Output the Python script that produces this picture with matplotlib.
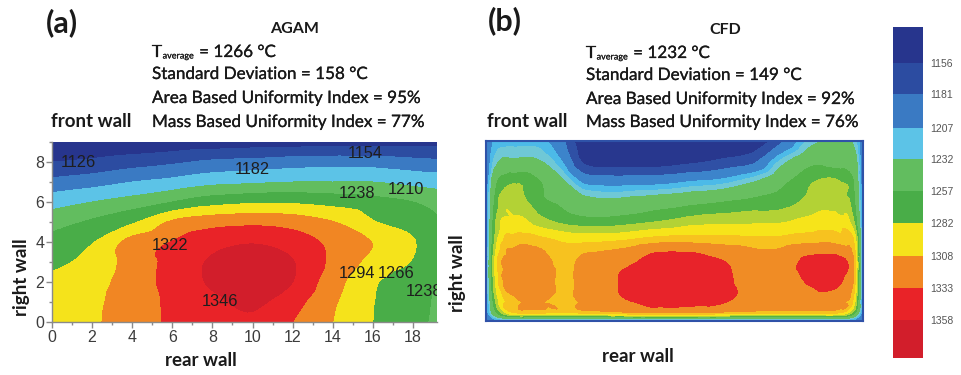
import matplotlib
matplotlib.use("Agg")
import matplotlib.pyplot as plt
import matplotlib.tri as mtri
import matplotlib.patheffects as pe
import numpy as np
from matplotlib.colors import ListedColormap, BoundaryNorm
import matplotlib.colorbar as mcolorbar

# ---------------- data ----------------
# (a) AGAM temperature field (deg C), rows from y=0 (rear wall) to y=9 (front wall)
agam_x = [0, 2, 4, 6, 8, 10, 12, 14, 16, 18, 19.2]
agam_y = [0, 1, 2, 3, 4, 5, 6, 7, 8, 9]
agam_y0 = [1282, 1290, 1309, 1326, 1336, 1342, 1322, 1294, 1266, 1246, 1233]
agam_y1 = [1278, 1288, 1309, 1327, 1341, 1350, 1332, 1298, 1267, 1246, 1235]
agam_y2 = [1272, 1284, 1307, 1331, 1349, 1358, 1346, 1306, 1270, 1249, 1238]
agam_y3 = [1259, 1275, 1305, 1330, 1349, 1358, 1347, 1316, 1285, 1264, 1243]
agam_y4 = [1246, 1264, 1304, 1323, 1337, 1344, 1335, 1315, 1293, 1268, 1246]
agam_y5 = [1227, 1242, 1262, 1298, 1311, 1315, 1310, 1295, 1268, 1255, 1242]
agam_y6 = [1198, 1210, 1222, 1238, 1255, 1262, 1262, 1256, 1248, 1238, 1228]
agam_y7 = [1162, 1170, 1182, 1191, 1202, 1206, 1210, 1210, 1210, 1202, 1198]
agam_y8 = [1126, 1132, 1141, 1149, 1159, 1163, 1168, 1170, 1169, 1163, 1160]
agam_y9 = [1095, 1098, 1100, 1104, 1106, 1110, 1111, 1112, 1112, 1114, 1115]
agam_levels = [1126, 1154, 1182, 1210, 1238, 1266, 1294, 1322, 1346]
agam_labels = ["1126", "1182", "1154", "1238", "1210", "1322", "1346", "1294", "1266", "1238"]

# (b) CFD temperature field (deg C)
cfd_x = [0, 0.4, 1.5, 2.8, 3.9, 5.0, 6.2, 7.5, 9, 10.5, 12, 13.5, 15, 16.5, 18, 18.8, 19.2]
cfd_y = [0, 0.35, 1, 2, 3, 4, 5, 6, 7, 8, 9]
cfd_y0 = [1180, 1190, 1192, 1192, 1192, 1192, 1192, 1192, 1192, 1192, 1192, 1192, 1192, 1192, 1192, 1190, 1180]
cfd_y035 = [1190, 1240, 1288, 1289, 1288, 1290, 1292, 1296, 1300, 1298, 1294, 1291, 1290, 1290, 1288, 1250, 1190]
cfd_y1 = [1195, 1262, 1304, 1309, 1300, 1312, 1320, 1334, 1340, 1340, 1337, 1318, 1316, 1318, 1312, 1282, 1195]
cfd_y2 = [1200, 1275, 1320, 1322, 1302, 1316, 1326, 1342, 1347, 1347, 1340, 1322, 1318, 1336, 1336, 1296, 1200]
cfd_y3 = [1200, 1278, 1320, 1318, 1300, 1314, 1320, 1330, 1350, 1350, 1334, 1320, 1318, 1340, 1340, 1300, 1200]
cfd_y4 = [1200, 1268, 1302, 1300, 1294, 1293, 1294, 1298, 1304, 1304, 1302, 1300, 1300, 1304, 1302, 1288, 1200]
cfd_y5 = [1195, 1262, 1285, 1274, 1266, 1262, 1262, 1265, 1270, 1276, 1278, 1279, 1280, 1286, 1286, 1265, 1195]
cfd_y6 = [1195, 1255, 1274, 1260, 1252, 1240, 1236, 1240, 1245, 1250, 1255, 1260, 1263, 1273, 1275, 1255, 1195]
cfd_y7 = [1190, 1245, 1268, 1256, 1235, 1200, 1195, 1196, 1198, 1206, 1212, 1228, 1250, 1268, 1270, 1250, 1190]
cfd_y8 = [1185, 1222, 1235, 1232, 1205, 1150, 1140, 1140, 1142, 1150, 1160, 1172, 1222, 1250, 1248, 1240, 1190]
cfd_y9 = [1180, 1208, 1214, 1212, 1185, 1135, 1128, 1126, 1126, 1128, 1130, 1130, 1175, 1225, 1232, 1225, 1185]
cfd_levels = [1000, 1156, 1181, 1207, 1220, 1232, 1257, 1270, 1282, 1295, 1308, 1333, 1500]
cfd_colors = ["#28378e", "#2f50a5", "#3c84cb", "#4cbae8", "#6fc8d6", "#68bf60",
              "#52b347", "#b3d235", "#f6e41a", "#f7c21f", "#f08c25", "#e8232a"]

# colour bar
cb_bounds = [1128, 1156, 1181, 1207, 1232, 1257, 1282, 1308, 1333, 1358, 1388]
cb_ticks = [1156, 1181, 1207, 1232, 1257, 1282, 1308, 1333, 1358]
band_colors = ["#27358d", "#2c4ca1", "#3a7ac3", "#5cc3e7", "#62bd5f",
               "#49ad48", "#f5e31b", "#f18623", "#e92328", "#d21e2b"]

# ---------------- figure ----------------
FONT = "Lato"
plt.rcParams["font.family"] = [FONT, "DejaVu Sans"]
W, H = 961, 375
fig = plt.figure(figsize=(W / 100, H / 100), dpi=100)
renderer = fig.canvas.get_renderer()


def rect(l, t, r, b):
    return [l / W, 1 - b / H, (r - l) / W, (b - t) / H]


def ftxt(px, py, s, **kw):
    return fig.text(px / W, 1 - py / H, s, **kw)


def smooth(xs, ys, rows):
    X, Y = np.meshgrid(np.array(xs, float), np.array(ys, float))
    Z = np.array(rows, float)
    tri = mtri.Triangulation(X.ravel(), Y.ravel())
    interp = mtri.CubicTriInterpolator(tri, Z.ravel(), kind="geom")
    ref = mtri.UniformTriRefiner(tri)
    return ref.refine_field(Z.ravel(), triinterpolator=interp, subdiv=3)


# ---- panel (a)
axa = fig.add_axes(rect(52, 142, 437, 322))
rows_a = [agam_y0, agam_y1, agam_y2, agam_y3, agam_y4, agam_y5, agam_y6, agam_y7, agam_y8, agam_y9]
tri_a, z_a = smooth(agam_x, agam_y, rows_a)
lev_a = [900] + agam_levels + [1500]
axa.tricontourf(tri_a, z_a, levels=lev_a, colors=band_colors)
axa.set_xlim(0, 19.2)
axa.set_ylim(0, 9)
axa.set_xticks(range(0, 19, 2))
axa.set_xticks(range(1, 19, 2), minor=True)
axa.set_yticks(range(0, 9, 2))
axa.set_yticks(range(1, 10, 2), minor=True)
for sp in ["top", "right"]:
    axa.spines[sp].set_visible(False)
for sp in ["left", "bottom"]:
    axa.spines[sp].set_color("#8a8a8a")
    axa.spines[sp].set_linewidth(1.0)
axa.tick_params(which="major", direction="out", length=4, width=1, color="#8a8a8a",
                labelsize=11.5, labelcolor="#3c3c3c", pad=1.5)
axa.tick_params(which="minor", direction="out", length=2.5, width=1, color="#8a8a8a")
for lab in axa.get_xticklabels() + axa.get_yticklabels():
    lab.set_family(["Liberation Sans", "DejaVu Sans"])

label_pos = [(1.3, 8.0, "center"), (10.0, 7.65, "center"), (15.6, 8.45, "center"),
             (15.2, 6.45, "center"), (17.65, 6.65, "center"), (5.9, 3.85, "center"),
             (8.4, 1.05, "center"), (15.2, 2.45, "center"), (17.15, 2.45, "center"),
             (17.65, 1.5, "left")]
for (x, y, ha), s in zip(label_pos, agam_labels):
    axa.text(x, y, s, ha=ha, va="center", fontsize=11.8, color="#1e1e1e",
             family=["Liberation Sans", "DejaVu Sans"], clip_on=True)

# ---- panel (b)
axb = fig.add_axes(rect(486, 141, 863, 321))
rows_b = [cfd_y0, cfd_y035, cfd_y1, cfd_y2, cfd_y3, cfd_y4, cfd_y5, cfd_y6, cfd_y7, cfd_y8, cfd_y9]
tri_b, z_b = smooth(cfd_x, cfd_y, rows_b)
axb.tricontourf(tri_b, z_b, levels=cfd_levels, colors=cfd_colors)
axb.set_xlim(0, 19.2)
axb.set_ylim(0, 9)
axb.set_xticks([])
axb.set_yticks([])
for sp in axb.spines.values():
    sp.set_color("#2f52a8")
    sp.set_linewidth(1.5)

# ---- colour bar
cax = fig.add_axes(rect(893, 27, 923, 358))
cb = mcolorbar.ColorbarBase(cax, cmap=ListedColormap(band_colors),
                            norm=BoundaryNorm(cb_bounds, len(band_colors)),
                            boundaries=cb_bounds, ticks=cb_ticks,
                            spacing="proportional", orientation="vertical")
cax.invert_yaxis()
cb.outline.set_visible(False)
cax.minorticks_off()
cax.tick_params(which="both", length=0, labelsize=7.5, labelcolor="#555555", pad=5)
cax.set_yticklabels([str(t) for t in cb_ticks], family=["Liberation Sans", "DejaVu Sans"])

# ---- texts
bold = dict(fontweight="bold", color="#1a1a1a")
STAT_FS = 12.3
STAT_C = "#181818"
stat = dict(fontsize=STAT_FS, color=STAT_C, ha="left", va="center",
            path_effects=[pe.withStroke(linewidth=0.18, foreground=STAT_C)])


def t_average(px, py, rest):
    t1 = ftxt(px, py, "T", **stat)
    bb = t1.get_window_extent(renderer)
    t2 = ftxt(bb.x1 + 0.5, py + 4, "average", fontsize=6.5, color=STAT_C, ha="left",
              va="center", path_effects=[pe.withStroke(linewidth=0.1, foreground=STAT_C)])
    bb2 = t2.get_window_extent(renderer)
    ftxt(bb2.x1 + 1, py, rest, **stat)


ftxt(62, 23, "(a)", fontsize=22, ha="center", va="center", **bold)
ftxt(295, 29, "AGAM", fontsize=11.5, ha="center", va="center", **bold)
t_average(152, 52, " = 1266 °C")
ftxt(152, 74, "Standard Deviation = 158 °C", **stat)
ftxt(152, 98, "Area Based Uniformity Index = 95%", **stat)
ftxt(152, 122, "Mass Based Uniformity Index = 77%", **stat)
ftxt(91, 122, "front wall", fontsize=13.5, ha="center", va="center", **bold)
ftxt(22, 277, "right wall", fontsize=13.5, ha="center", va="center", rotation=90, **bold)
ftxt(201, 360, "rear wall", fontsize=13.5, ha="center", va="center", **bold)

ftxt(505, 21, "(b)", fontsize=22, ha="center", va="center", **bold)
ftxt(725, 30, "CFD", fontsize=11.5, ha="center", va="center", **bold)
t_average(586, 53, " = 1232 °C")
ftxt(586, 75, "Standard Deviation = 149 °C", **stat)
ftxt(586, 99, "Area Based Uniformity Index = 92%", **stat)
ftxt(586, 122, "Mass Based Uniformity Index = 76%", **stat)
ftxt(527, 122, "front wall", fontsize=13.5, ha="center", va="center", **bold)
ftxt(458, 273, "right wall", fontsize=13.5, ha="center", va="center", rotation=90, **bold)
ftxt(638, 357, "rear wall", fontsize=13.5, ha="center", va="center", **bold)

fig.savefig("out.png", dpi=100, facecolor="white")
